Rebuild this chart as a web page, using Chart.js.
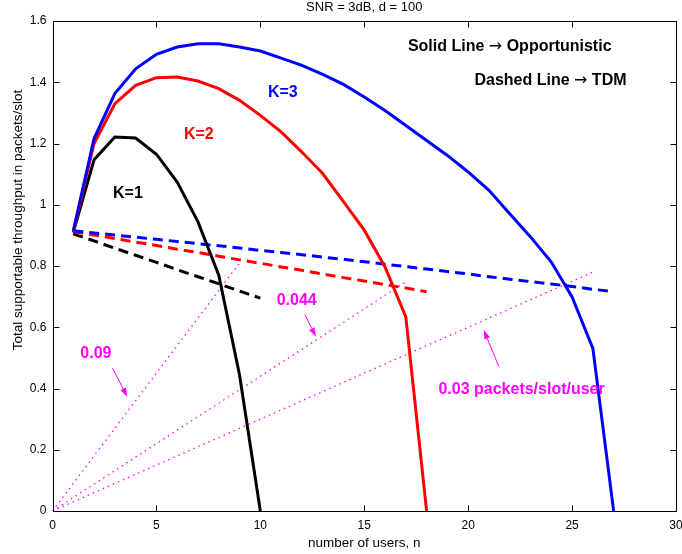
<!DOCTYPE html>
<html>
<head>
<meta charset="utf-8">
<script src="https://cdn.jsdelivr.net/npm/chart.js@4/dist/chart.umd.min.js"></script>
<style>
  html, body { margin: 0; padding: 0; background: #ffffff; }
  #wrap { width: 682px; height: 554px; }
</style>
</head>
<body>
<div id="wrap"><canvas id="c" width="682" height="554"></canvas></div>
<script>
// ---------------- data ----------------
const usersK1 = [1, 2, 3, 4, 5, 6, 7, 8, 9, 10];
const usersK2 = [1, 2, 3, 4, 5, 6, 7, 8, 9, 10, 11, 12, 13, 14, 15, 16, 17, 18];
const usersK3 = [1, 2, 3, 4, 5, 6, 7, 8, 9, 10, 11, 12, 13, 14, 15, 16, 17, 18, 19, 20, 21, 22, 23, 24, 25, 26, 27];

// Opportunistic (solid)
const oppK1 = [0.910, 1.147, 1.221, 1.218, 1.165, 1.074, 0.944, 0.770, 0.444, 0];
const oppK2 = [0.912, 1.200, 1.330, 1.390, 1.415, 1.417, 1.404, 1.379, 1.341, 1.292, 1.238, 1.172, 1.102, 1.010, 0.917, 0.797, 0.634, 0];
const oppK3 = [0.915, 1.216, 1.363, 1.444, 1.491, 1.515, 1.526, 1.526, 1.515, 1.502, 1.479, 1.455, 1.426, 1.393, 1.352, 1.308, 1.259, 1.210, 1.161, 1.107, 1.047, 0.971, 0.895, 0.813, 0.699, 0.531, 0];

// TDM (dashed)
const tdmK1 = [0.905, 0.882, 0.858, 0.835, 0.812, 0.788, 0.765, 0.742, 0.718, 0.695];
const tdmK2 = [0.912, 0.901, 0.890, 0.878, 0.867, 0.855, 0.844, 0.832, 0.820, 0.809, 0.797, 0.786, 0.774, 0.762, 0.751, 0.739, 0.728, 0.716];
const tdmK3 = [0.915, 0.908, 0.901, 0.894, 0.887, 0.880, 0.873, 0.866, 0.859, 0.851, 0.844, 0.837, 0.829, 0.822, 0.814, 0.806, 0.798, 0.790, 0.782, 0.774, 0.765, 0.757, 0.749, 0.741, 0.733, 0.724, 0.716];

// per-user rate lines (dotted)
const rate09X = [0, 9];    const rate09Y = [0, 0.81];
const rate044X = [0, 17];  const rate044Y = [0, 0.748];
const rate03X = [0, 26];   const rate03Y = [0, 0.78];

// ticks
const xTicks = [0, 5, 10, 15, 20, 25, 30];
const xTickLabels = ['0', '5', '10', '15', '20', '25', '30'];
const yTicks = [0, 0.2, 0.4, 0.6, 0.8, 1.0, 1.2, 1.4, 1.6];
const yTickLabels = ['0', '0.2', '0.4', '0.6', '0.8', '1', '1.2', '1.4', '1.6'];

const titleText = 'SNR = 3dB, d = 100';
const xTitle = 'number of users, n';
const yTitle = 'Total supportable throughput in packets/slot';

// ---------------- styling ----------------
const FONT = '"Liberation Sans", Arial, Helvetica, sans-serif';
const BLUE = '#0000ff', RED = '#ff0000', BLACK = '#000000', MAG = '#ff00ff';

function pts(xs, ys) { return xs.map((v, i) => ({ x: v, y: ys[i] })); }

function solid(data, color) {
  return { data, borderColor: color, borderWidth: 3, pointRadius: 0, fill: false, tension: 0 };
}
function dashed(data, color) {
  return { data, borderColor: color, borderWidth: 3, borderDash: [10, 6], pointRadius: 0, fill: false, tension: 0 };
}
function dotted(data) {
  return { data, borderColor: MAG, borderWidth: 1.3, borderDash: [1.5, 4], pointRadius: 0, fill: false, tension: 0 };
}

// Annotation anchors, in data coordinates
const labels = [
  { x: 11.08, y: 1.367, parts: [{ t: 'K=3', f: 'bold 16px ' + FONT }], color: BLUE },
  { x: 7.04, y: 1.230, parts: [{ t: 'K=2', f: 'bold 16px ' + FONT }], color: RED },
  { x: 3.63, y: 1.037, parts: [{ t: 'K=1', f: 'bold 16px ' + FONT }], color: BLACK },
  { x: 22.0, y: 1.517, parts: [{ t: 'Solid Line ', f: 'bold 16px ' + FONT }, { t: '\u2192', f: '16px "DejaVu Sans", ' + FONT }, { t: ' Opportunistic', f: 'bold 16px ' + FONT }], color: BLACK },
  { x: 23.96, y: 1.406, parts: [{ t: 'Dashed Line ', f: 'bold 16px ' + FONT }, { t: '\u2192', f: '16px "DejaVu Sans", ' + FONT }, { t: ' TDM', f: 'bold 16px ' + FONT }], color: BLACK },
  { x: 2.09, y: 0.515, parts: [{ t: '0.09', f: 'bold 16px ' + FONT }], color: MAG },
  { x: 11.75, y: 0.688, parts: [{ t: '0.044', f: 'bold 16px ' + FONT }], color: MAG },
  { x: 22.57, y: 0.398, parts: [{ t: '0.03 packets/slot/user', f: 'bold 16px ' + FONT }], color: MAG }
];
const arrows = [
  { x0: 2.89, y0: 0.466, x1: 3.60, y1: 0.373 },
  { x0: 12.14, y0: 0.642, x1: 12.67, y1: 0.569 },
  { x0: 21.48, y0: 0.471, x1: 20.75, y1: 0.591 }
];

const decor = {
  id: 'decor',
  afterDraw(chart) {
    const { ctx, chartArea: a, scales: { x, y } } = chart;
    ctx.save();
    // box
    ctx.strokeStyle = '#000';
    ctx.lineWidth = 1;
    const L = Math.round(a.left) + 0.5, T = Math.round(a.top) + 0.5;
    const R = Math.round(a.right) + 0.5, B = Math.round(a.bottom) + 0.5;
    ctx.strokeRect(L, T, R - L, B - T);
    // inward ticks on all four sides
    const TL = 6;
    ctx.beginPath();
    xTicks.forEach(v => {
      const px = Math.round(x.getPixelForValue(v)) + 0.5;
      ctx.moveTo(px, B); ctx.lineTo(px, B - TL);
      ctx.moveTo(px, T); ctx.lineTo(px, T + TL);
    });
    yTicks.forEach(v => {
      const py = Math.round(y.getPixelForValue(v)) + 0.5;
      ctx.moveTo(L, py); ctx.lineTo(L + TL, py);
      ctx.moveTo(R, py); ctx.lineTo(R - TL, py);
    });
    ctx.stroke();

    // title
    ctx.fillStyle = '#000';
    ctx.font = '13px ' + FONT;
    ctx.textAlign = 'center';
    ctx.textBaseline = 'middle';
    ctx.fillText(titleText, (a.left + a.right) / 2, 7);

    // y axis title (rotated)
    ctx.save();
    ctx.translate(18, 220);
    ctx.rotate(-Math.PI / 2);
    ctx.font = '13.5px ' + FONT;
    ctx.fillText(yTitle, 0, 0);
    ctx.restore();

    // text annotations
    ctx.textBaseline = 'middle';
    ctx.textAlign = 'left';
    labels.forEach(lb => {
      let w = 0;
      lb.parts.forEach(p => { ctx.font = p.f; w += ctx.measureText(p.t).width; });
      let cx = x.getPixelForValue(lb.x) - w / 2;
      const cy = y.getPixelForValue(lb.y);
      ctx.fillStyle = lb.color;
      lb.parts.forEach(p => { ctx.font = p.f; ctx.fillText(p.t, cx, cy); cx += ctx.measureText(p.t).width; });
    });

    // arrows
    ctx.strokeStyle = MAG;
    ctx.fillStyle = MAG;
    ctx.lineWidth = 1;
    arrows.forEach(ar => {
      const x0 = x.getPixelForValue(ar.x0), y0 = y.getPixelForValue(ar.y0);
      const x1 = x.getPixelForValue(ar.x1), y1 = y.getPixelForValue(ar.y1);
      const ang = Math.atan2(y1 - y0, x1 - x0);
      const hl = 9, hw = 3;
      const bx = x1 - hl * Math.cos(ang), by = y1 - hl * Math.sin(ang);
      ctx.beginPath();
      ctx.moveTo(x0, y0); ctx.lineTo(bx, by);
      ctx.stroke();
      ctx.beginPath();
      ctx.moveTo(x1, y1);
      ctx.lineTo(bx + hw * Math.sin(ang), by - hw * Math.cos(ang));
      ctx.lineTo(bx - hw * Math.sin(ang), by + hw * Math.cos(ang));
      ctx.closePath();
      ctx.fill();
    });
    ctx.restore();
  }
};

new Chart(document.getElementById('c'), {
  type: 'line',
  data: {
    datasets: [
      solid(pts(usersK3, oppK3), BLUE),
      solid(pts(usersK2, oppK2), RED),
      solid(pts(usersK1, oppK1), BLACK),
      dashed(pts(usersK3, tdmK3), BLUE),
      dashed(pts(usersK2, tdmK2), RED),
      dashed(pts(usersK1, tdmK1), BLACK),
      dotted(pts(rate09X, rate09Y)),
      dotted(pts(rate044X, rate044Y)),
      dotted(pts(rate03X, rate03Y))
    ]
  },
  options: {
    responsive: false,
    animation: false,
    devicePixelRatio: 1,
    layout: { padding: { left: 0, right: 6, top: 21, bottom: 0 } },
    plugins: { legend: { display: false }, tooltip: { enabled: false }, title: { display: false } },
    scales: {
      x: {
        type: 'linear', min: 0, max: 30,
        afterBuildTicks(s) { s.ticks = xTicks.map(v => ({ value: v })); },
        ticks: {
          callback: (v, i) => xTickLabels[i],
          font: { family: FONT, size: 12 }, color: '#000', padding: 7, maxRotation: 0, autoSkip: false
        },
        grid: { display: false, drawTicks: false },
        border: { display: false },
        title: { display: true, text: xTitle, color: '#000', font: { family: FONT, size: 13.5 }, padding: { top: 0, bottom: 3 } },
        afterFit(s) { s.height = 43; s.paddingLeft = 0; s.paddingRight = 0; }
      },
      y: {
        type: 'linear', min: 0, max: 1.6,
        afterBuildTicks(s) { s.ticks = yTicks.map(v => ({ value: v })); },
        ticks: {
          callback: (v, i) => yTickLabels[i],
          font: { family: FONT, size: 12 }, color: '#000', padding: 6, autoSkip: false
        },
        grid: { display: false, drawTicks: false },
        border: { display: false },
        title: { display: false },
        afterFit(s) { s.width = 52.5; s.paddingTop = 0; s.paddingBottom = 0; }
      }
    }
  },
  plugins: [decor]
});
</script>
</body>
</html>
